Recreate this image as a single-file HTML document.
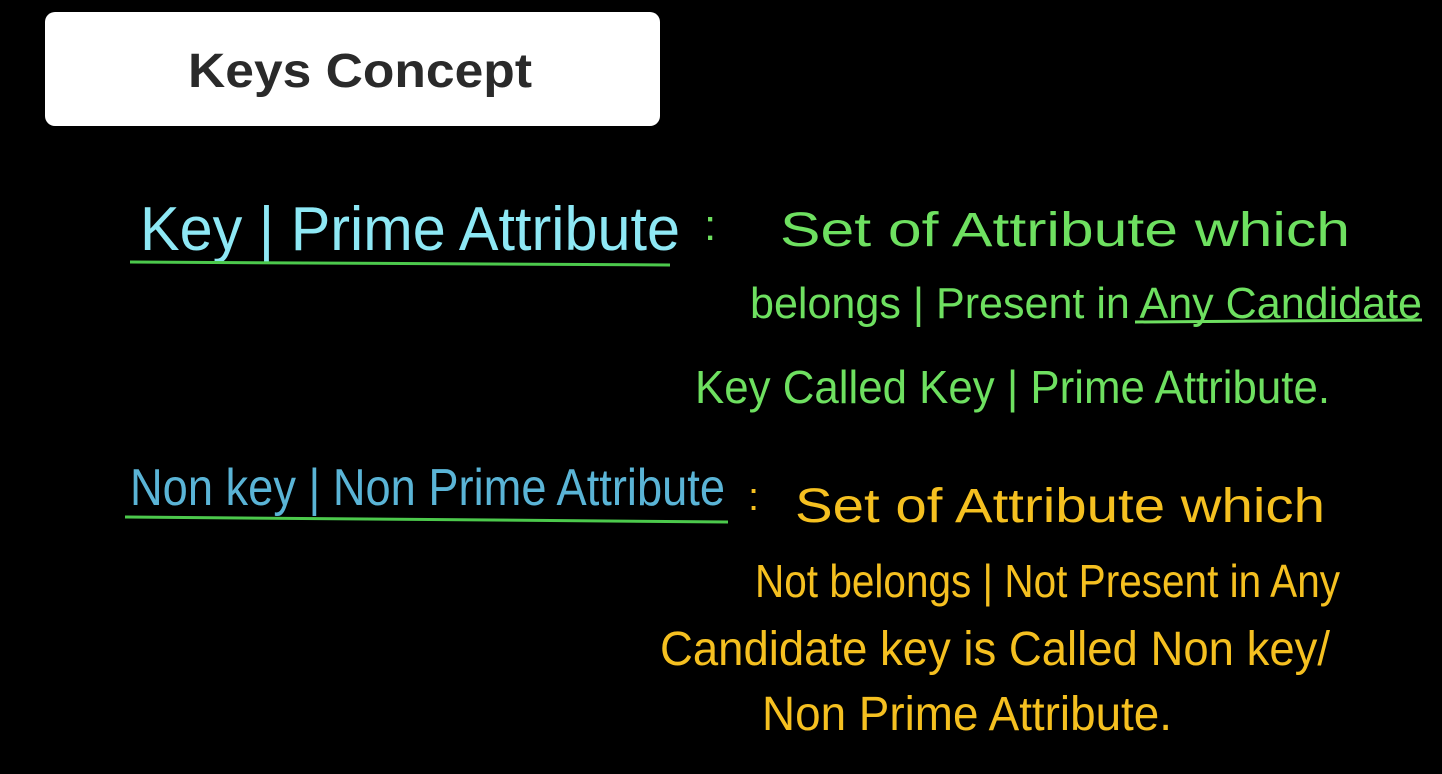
<!DOCTYPE html>
<html><head><meta charset="utf-8"><style>
html,body{margin:0;padding:0;background:#000;width:1442px;height:774px;overflow:hidden}
</style></head><body>
<svg width="1442" height="774" viewBox="0 0 1442 774" xmlns="http://www.w3.org/2000/svg" style="display:block">
<rect width="1442" height="774" fill="#000"/>
<rect x="45" y="12" width="615" height="114" rx="10" fill="#fff"/>
<text x="188" y="87" font-family="Liberation Sans, sans-serif" font-weight="bold" font-size="48" fill="#2a2a2a" textLength="344" lengthAdjust="spacingAndGlyphs">Keys Concept</text>
<g font-family="Liberation Sans, sans-serif">
<text x="140" y="250" font-size="62" fill="#8ee8f5" textLength="540" lengthAdjust="spacingAndGlyphs">Key | Prime Attribute</text>
<line x1="130" y1="262" x2="670" y2="265" stroke="#4cc94c" stroke-width="3"/>
<text x="704" y="240" font-size="44" fill="#6ee060">:</text>
<text x="780" y="246" font-size="48" fill="#6ee060" textLength="570" lengthAdjust="spacingAndGlyphs">Set of Attribute which</text>
<text x="750" y="318" font-size="44" fill="#6ee060" textLength="672" lengthAdjust="spacingAndGlyphs">belongs | Present in Any Candidate</text>
<line x1="1135" y1="322" x2="1422" y2="320" stroke="#6ee060" stroke-width="3"/>
<text x="695" y="403" font-size="46" fill="#6ee060" textLength="635" lengthAdjust="spacingAndGlyphs">Key Called Key | Prime Attribute.</text>
<text x="130" y="505" font-size="52" fill="#5ab4d6" textLength="595" lengthAdjust="spacingAndGlyphs">Non key | Non Prime Attribute</text>
<line x1="125" y1="517" x2="728" y2="522" stroke="#4cc94c" stroke-width="3"/>
<text x="748" y="510" font-size="40" fill="#f5c020">:</text>
<text x="795" y="522" font-size="48" fill="#f5c020" textLength="530" lengthAdjust="spacingAndGlyphs">Set of Attribute which</text>
<text x="755" y="597" font-size="46" fill="#f5c020" textLength="585" lengthAdjust="spacingAndGlyphs">Not belongs | Not Present in Any</text>
<text x="660" y="665" font-size="48" fill="#f5c020" textLength="670" lengthAdjust="spacingAndGlyphs">Candidate key is Called Non key/</text>
<text x="762" y="730" font-size="48" fill="#f5c020" textLength="410" lengthAdjust="spacingAndGlyphs">Non Prime Attribute.</text>
</g>
</svg>
</body></html>
